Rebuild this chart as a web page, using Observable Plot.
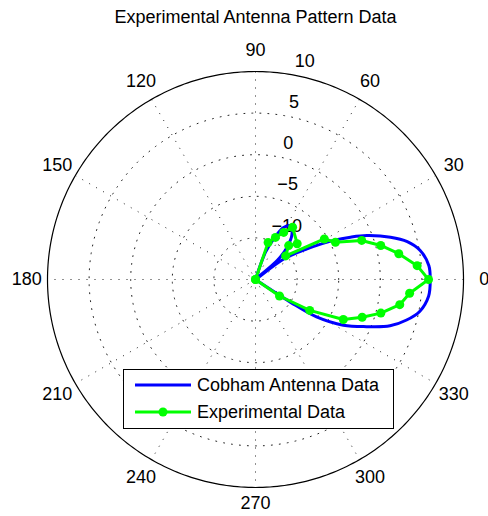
<!DOCTYPE html>
<html>
<head>
<meta charset="utf-8">
<script src="https://cdn.jsdelivr.net/npm/d3@7"></script>
<script src="https://cdn.jsdelivr.net/npm/@observablehq/plot@0.6"></script>
<style>
  html, body { margin: 0; padding: 0; background: #fff; }
</style>
</head>
<body>
<div id="chart"></div>
<script>
// ---- data ----
const titleText = "Experimental Antenna Pattern Data";
const angleTicks = [0, 30, 60, 90, 120, 150, 180, 210, 240, 270, 300, 330];
const ringTicks = [-10, -5, 0, 5, 10];
const centerDb = -15;           // value at the pole
const spokeAngles = [0, 30, 60, 90, 120, 150];
const legendLabels = ["Cobham Antenna Data", "Experimental Data"];

// Cobham antenna data: angle (deg) and gain (dB)
const cobhamAngle = [-34, -33.5, -33, -31.5, -27.5, -23, -19, -15, -11, -5.5, 0, 4.6, 10, 14, 17.4, 21.5, 24, 26.5, 30.7, 36, 38, 41.2, 45.5, 51.2, 57, 61.6, 65.8, 69.9, 73];
const cobhamDb    = [-15, -12.6, -9.9, -6.4, -3.1, -0.5, 2.1, 3.8, 5.1, 5.9, 6.0, 5.9, 5.1, 3.8, 2.0, -0.6, -2.5, -4.4, -7.8, -10.8, -15, -11.5, -9.6, -8.0, -7.3, -7.9, -9.6, -11.5, -15];

// Experimental data: angle (deg) and gain (dB)
const expAngle = [-40, -34.5, -29.7, -24.5, -19.5, -15, -9.9, -5.1, 0, 4.9, 10.2, 15.2, 20.2, 25, 30.5, 38, 45.6, 40.6, 54.6, 59.1, 64.7, 71.2, 78];
const expDb    = [-15, -11.5, -7.5, -3.4, -1.4, 0.6, 2.6, 3.6, 5.8, 4.5, 2.5, 0.6, -1.4, -4.4, -5.4, -10.4, -9.3, -8.4, -7.3, -8.4, -9.4, -10.3, -15];

// ---- geometry ----
const W = 488, H = 516, cx = 255, cy = 279, R = 208;
const maxDb = ringTicks[ringTicks.length - 1];
const span = maxDb - centerDb;
const k = R / span; // px per dB
const rad = d => d * Math.PI / 180;
const px = (deg, r) => r * Math.cos(rad(deg));
const py = (deg, r) => r * Math.sin(rad(deg));
const rOf = db => Math.max(0, db - centerDb);

const cobham = cobhamAngle.map((a, i) => ({a, r: rOf(cobhamDb[i])}));
const experimental = expAngle.map((a, i) => ({a, r: rOf(expDb[i])}));

const circleDeg = d3.range(0, 361, 1);
const outer = circleDeg.map(a => ({a, r: span}));
const rings = ringTicks.slice(0, -1).flatMap(t => circleDeg.map(a => ({a, r: t - centerDb, ring: t})));
const spokes = spokeAngles.map(a => ({a}));

const dotted = {stroke: "#222", strokeWidth: 1, strokeDasharray: "1,7"};
const tickLabel = d => d < 0 ? "\u2212" + Math.abs(d) : String(d);
// label radius (the bottom label is nudged in slightly so it stays inside the frame)
const labelR = d => span * 1.1 - (d === 270 ? 0.55 : 0);

const chart = Plot.plot({
  width: W,
  height: H,
  margin: 0,
  style: {fontFamily: "'Liberation Sans', Arial, Helvetica, sans-serif", fontSize: "18px", background: "#fff", color: "#000"},
  x: {domain: [-cx / k, (W - cx) / k], axis: null},
  y: {domain: [-(H - cy) / k, cy / k], axis: null},
  marks: [
    Plot.line(rings, {x: d => px(d.a, d.r), y: d => py(d.a, d.r), z: "ring", ...dotted}),
    Plot.link(spokes, {x1: d => px(d.a, span), y1: d => py(d.a, span), x2: d => px(d.a + 180, span), y2: d => py(d.a + 180, span), ...dotted}),
    Plot.line(outer, {x: d => px(d.a, d.r), y: d => py(d.a, d.r), stroke: "#000", strokeWidth: 1.2}),
    Plot.text(angleTicks, {x: d => px(d, labelR(d)), y: d => py(d, labelR(d)), text: d => String(d), fontSize: 18, fill: "#000"}),
    Plot.text(ringTicks, {x: d => px(82, d - centerDb + span / 100), y: d => py(82, d - centerDb + span / 100), text: tickLabel, textAnchor: "start", dx: 10, dy: -10.5, fontSize: 18, fill: "#000"}),
    Plot.line(cobham, {x: d => px(d.a, d.r), y: d => py(d.a, d.r), stroke: "#0000ff", strokeWidth: 3, curve: "catmull-rom"}),
    Plot.line(experimental, {x: d => px(d.a, d.r), y: d => py(d.a, d.r), stroke: "#00ff00", strokeWidth: 3}),
    Plot.dot(experimental, {x: d => px(d.a, d.r), y: d => py(d.a, d.r), r: 4.5, fill: "#00ff00", stroke: "none"}),
    Plot.text([titleText], {frameAnchor: "top", lineAnchor: "middle", dx: 11, dy: 17, fontSize: 18, fill: "#000"})
  ]
});

// legend (drawn into the same SVG)
const svg = d3.select(chart);
const lg = svg.append("g");
lg.append("rect").attr("x", 123.5).attr("y", 369.5).attr("width", 270).attr("height", 59)
  .attr("fill", "#fff").attr("stroke", "#000").attr("stroke-width", 1);
const colors = ["#0000ff", "#00ff00"];
legendLabels.forEach((lab, i) => {
  const y = 385 + i * 27;
  lg.append("line").attr("x1", 135).attr("x2", 191).attr("y1", y).attr("y2", y)
    .attr("stroke", colors[i]).attr("stroke-width", 3);
  if (i === 1) lg.append("circle").attr("cx", 163).attr("cy", y).attr("r", 4.5).attr("fill", colors[i]);
  lg.append("text").attr("x", 197).attr("y", y).attr("dy", "0.35em")
    .attr("text-anchor", "start").attr("font-size", 18).attr("fill", "#000").text(lab);
});

document.getElementById("chart").appendChild(chart);
</script>
</body>
</html>
